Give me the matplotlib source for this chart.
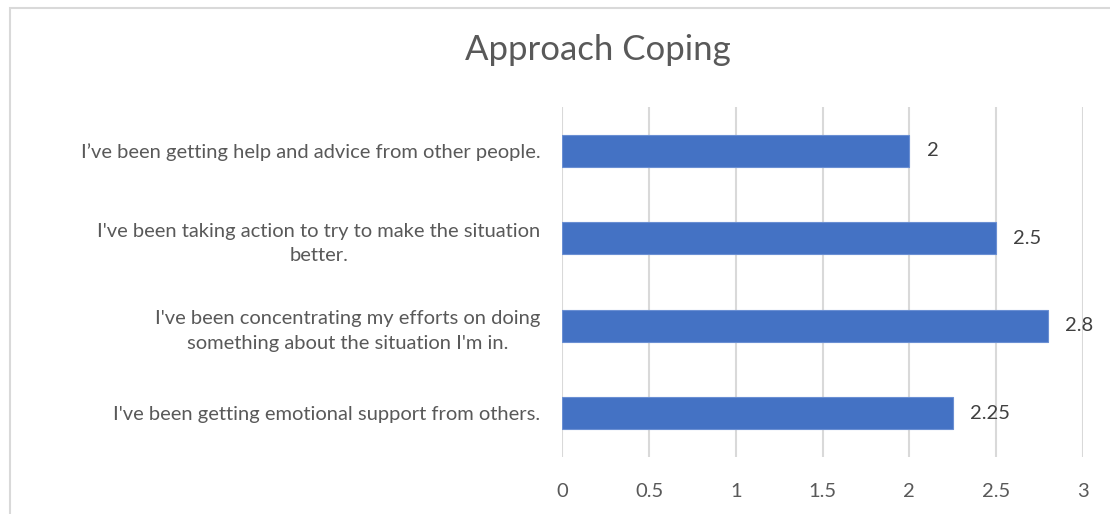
import matplotlib.pyplot as plt
from matplotlib.patches import Rectangle

plt.rcParams['font.family'] = ['Lato', 'DejaVu Sans']

# survey items, bottom to top
labels = [
    "I've been getting emotional support from others.",
    "I've been concentrating my efforts on doing\nsomething about the situation I'm in.",
    "I've been taking action to try to make the situation\nbetter.",
    "I\u2019ve been getting help and advice from other people.",
]
scores = [2.25, 2.8, 2.5, 2]
ticks = [0, 0.5, 1, 1.5, 2, 2.5, 3]

grey = '#595959'
blue = '#4472C4'

fig = plt.figure(figsize=(11.1, 5.14), dpi=100)
ax = fig.add_axes([0.5067, 0.1109, 0.4686, 0.6809])

# light frame round the chart area
fig.patches.append(Rectangle((10 / 1110, -0.05), 1.2, 1 - 8 / 514 + 0.05,
                             transform=fig.transFigure, fill=False,
                             edgecolor='#D9D9D9', linewidth=1.5))

y = range(len(labels))
bars = ax.barh(y, scores, height=0.37, color=blue, edgecolor='#6A8FD3',
               linewidth=0.8, zorder=3)

for i, v in enumerate(scores):
    ax.text(v + 0.1, i, f'{v:g}', va='center', ha='left',
            fontsize=14.5, color='#404040')

ax.set_xlim(0, 3)
ax.set_ylim(-0.5, len(labels) - 0.5)
ax.set_xticks(ticks)
ax.set_xticklabels([f'{t:g}' for t in ticks])
ax.set_yticks(list(y))
ax.set_yticklabels(labels, multialignment='center', linespacing=1.55)

ax.grid(axis='x', color='#D9D9D9', linewidth=1.5, zorder=0)
for s in ax.spines.values():
    s.set_visible(False)
ax.tick_params(axis='both', length=0, labelsize=14.5, labelcolor=grey)
ax.tick_params(axis='y', pad=16)
ax.tick_params(axis='x', pad=19)

fig.text(0.539, 0.903, 'Approach Coping', ha='center', va='center',
         fontsize=25, color=grey)

fig.savefig('out.png', dpi=100)
